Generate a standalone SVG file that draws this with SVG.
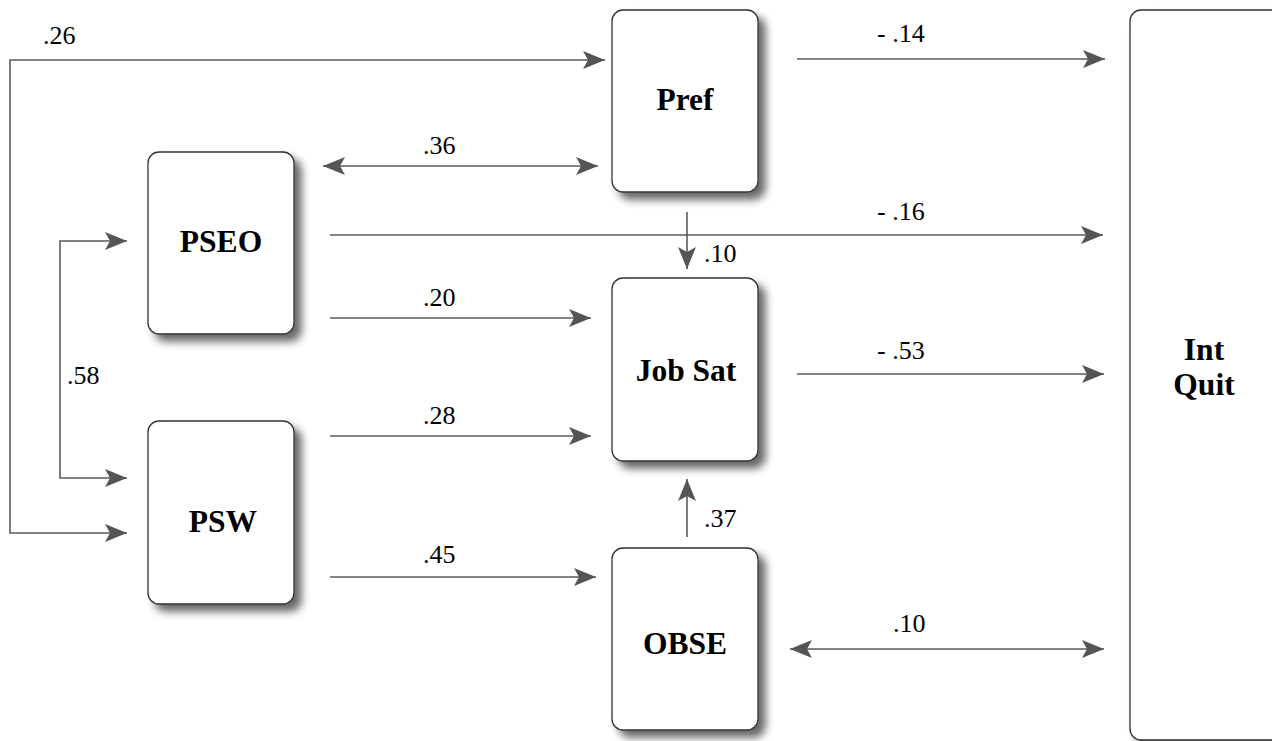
<svg xmlns="http://www.w3.org/2000/svg" width="1272" height="741" viewBox="0 0 1272 741">
<style>
.box{fill:#fff;stroke:#333;stroke-width:1.3}
.lbl{font-weight:bold;font-size:31.5px;fill:#000;text-anchor:middle}
.num{font-size:26px;fill:#000}
.con{fill:none;stroke:#5a5a5a;stroke-width:1.6}
</style>
<defs>
<filter id="sh" x="-20%" y="-20%" width="150%" height="150%">
<feGaussianBlur in="SourceAlpha" stdDeviation="4"/>
<feOffset dx="7" dy="7" result="b"/>
<feComponentTransfer><feFuncA type="linear" slope="0.6"/></feComponentTransfer>
<feMerge><feMergeNode/><feMergeNode in="SourceGraphic"/></feMerge>
</filter>
<marker id="ah" viewBox="0 0 22 18" refX="22" refY="9" markerWidth="22" markerHeight="18" markerUnits="userSpaceOnUse" orient="auto-start-reverse">
<path d="M0,0 L22,9 L0,18 L5,9 z" fill="#555"/>
</marker>
</defs>
<rect width="1272" height="741" fill="#fff"/>
<g id="connectors" font-family="Liberation Serif, Times New Roman, serif">
<path class="con" d="M605,60 H10 V533 H127" marker-start="url(#ah)" marker-end="url(#ah)"/>
<path class="con" d="M127,241 H60 V478 H127" marker-start="url(#ah)" marker-end="url(#ah)"/>
<line class="con" x1="323" y1="166" x2="598" y2="166" marker-start="url(#ah)" marker-end="url(#ah)"/>
<line class="con" x1="797" y1="59" x2="1105" y2="59" marker-end="url(#ah)"/>
<line class="con" x1="330" y1="235" x2="1103" y2="235" marker-end="url(#ah)"/>
<line class="con" x1="687" y1="212" x2="687" y2="269" marker-end="url(#ah)"/>
<line class="con" x1="330" y1="318" x2="591" y2="318" marker-end="url(#ah)"/>
<line class="con" x1="330" y1="436" x2="591" y2="436" marker-end="url(#ah)"/>
<line class="con" x1="330" y1="577" x2="596" y2="577" marker-end="url(#ah)"/>
<line class="con" x1="687" y1="537" x2="687" y2="479" marker-end="url(#ah)"/>
<line class="con" x1="797" y1="374" x2="1104" y2="374" marker-end="url(#ah)"/>
<line class="con" x1="790" y1="649" x2="1104" y2="649" marker-start="url(#ah)" marker-end="url(#ah)"/>
<text class="num" x="43" y="44">.26</text>
<text class="num" x="67" y="384">.58</text>
<text class="num" x="423" y="154">.36</text>
<text class="num" x="877" y="42">- .14</text>
<text class="num" x="877" y="220">- .16</text>
<text class="num" x="704" y="262">.10</text>
<text class="num" x="423" y="306">.20</text>
<text class="num" x="423" y="424">.28</text>
<text class="num" x="423" y="563">.45</text>
<text class="num" x="704" y="527">.37</text>
<text class="num" x="877" y="359">- .53</text>
<text class="num" x="893" y="632">.10</text>
</g>
<g font-family="Liberation Serif, Times New Roman, serif">
<g id="pref"><rect class="box" filter="url(#sh)" x="612" y="10" width="146" height="182" rx="11"/><text class="lbl" x="685" y="110">Pref</text></g>
<g id="pseo"><rect class="box" filter="url(#sh)" x="148" y="152" width="146" height="182" rx="11"/><text class="lbl" x="221" y="252">PSEO</text></g>
<g id="psw"><rect class="box" filter="url(#sh)" x="148" y="421" width="146" height="183" rx="11"/><text class="lbl" x="223" y="532">PSW</text></g>
<g id="jobsat"><rect class="box" filter="url(#sh)" x="612" y="278" width="146" height="183" rx="11"/><text class="lbl" x="686" y="381">Job Sat</text></g>
<g id="obse"><rect class="box" filter="url(#sh)" x="612" y="548" width="146" height="182" rx="11"/><text class="lbl" x="685" y="654">OBSE</text></g>
<g id="intquit"><rect class="box" filter="url(#sh)" x="1130" y="10" width="170" height="730" rx="11"/><text class="lbl" x="1204" y="360">Int</text><text class="lbl" x="1204" y="395">Quit</text></g>
</g>
</svg>
